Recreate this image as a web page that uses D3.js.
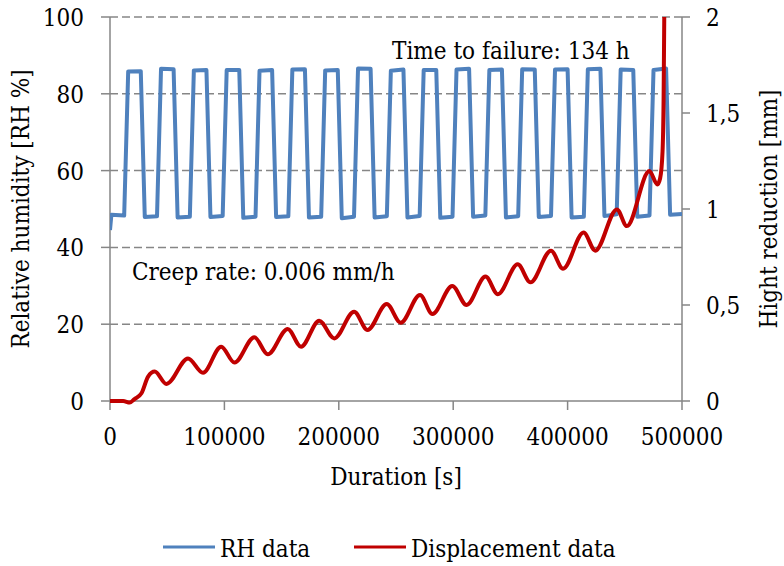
<!DOCTYPE html>
<html>
<head>
<meta charset="utf-8">
<script src="https://cdn.jsdelivr.net/npm/d3@7"></script>
<style>
    body { margin: 0; background: #fff; }
</style>
</head>
<body>
<div id="chart"></div>
<script>
// axis ticks
var xTicks = [0, 100000, 200000, 300000, 400000, 500000],
    rhTicks = [0, 20, 40, 60, 80, 100],
    dispTicks = [0, 0.5, 1, 1.5, 2],
    dispTickLabels = ['0', '0,5', '1', '1,5', '2'];

// RH data [s, %RH] - corners of the humidity cycles
var rhTime = [0, 1200, 12400,
    15900, 26900, 30400, 41100,
    44600, 55600, 59100, 69800,
    73300, 84300, 87800, 98500,
    102000, 113000, 116500, 127200,
    130700, 141700, 145200, 155900,
    159400, 170400, 173900, 184600,
    188100, 199100, 202600, 213300,
    216800, 227800, 231300, 242000,
    245500, 256500, 260000, 270700,
    274200, 285200, 288700, 299400,
    302900, 313900, 317400, 328100,
    331600, 342600, 346100, 356800,
    360300, 371300, 374800, 385500,
    389000, 400000, 403500, 414200,
    417700, 428700, 432200, 442900,
    446400, 457400, 460900, 471600,
    475100, 486100, 489600, 500000];
var rhValue = [44.5, 48.5, 48.3,
    85.8, 85.9, 47.9, 48.1,
    86.5, 86.4, 47.8, 48.0,
    86.1, 86.2, 47.9, 48.2,
    86.2, 86.2, 47.7, 48.0,
    86.0, 86.2, 47.9, 48.1,
    86.3, 86.4, 47.8, 48.0,
    86.1, 86.2, 47.6, 48.0,
    86.6, 86.5, 47.8, 48.1,
    86.0, 86.3, 47.8, 48.2,
    86.2, 86.2, 47.7, 48.0,
    86.3, 86.5, 48.0, 48.3,
    86.2, 86.3, 47.8, 48.1,
    86.4, 86.3, 47.9, 48.2,
    86.3, 86.4, 47.8, 48.0,
    86.4, 86.5, 48.2, 48.6,
    86.3, 86.2, 48.0, 48.3,
    86.2, 86.6, 48.5, 48.7];

// Displacement data [s, mm] - peaks and troughs of the creep curve
var dispTime = [0, 11500, 17300, 21400, 27500, 33300, 39100, 49300,
    68200, 81300, 97200, 108800, 126200, 137900, 155400, 167000,
    182900, 196000, 213400, 225100, 241900, 254100, 271000, 281800,
    299200, 311700, 328300, 339000, 356400, 367500, 385500, 396000,
    414000, 424200, 443100, 451800, 471500, 478500, 480900, 483000,
    483900, 484500, 485000];
var dispValue = [0, 0, -0.008, 0.01, 0.04, 0.127, 0.153, 0.089,
    0.222, 0.147, 0.283, 0.2, 0.332, 0.243, 0.375, 0.283,
    0.418, 0.326, 0.465, 0.37, 0.505, 0.408, 0.552, 0.453,
    0.599, 0.5, 0.648, 0.556, 0.712, 0.618, 0.783, 0.689,
    0.877, 0.783, 0.998, 0.911, 1.198, 1.128, 1.16, 1.3,
    1.57, 2.0, 2.3];

var annotTop = 'Time to failure: 134 h',
    annotMid = 'Creep rate: 0.006 mm/h';

(function () {
    var width = 784,
        height = 566,
        left = 110, right = 682, top = 17, bottom = 401,
        grey = '#868686',
        blue = '#4F81BD',
        red = '#C00000',
        fs = '24px';

    var svg = d3.select('#chart').append('svg')
        .attr('width', width).attr('height', height)
        .style('font-family', "'DejaVu Serif Condensed', 'DejaVu Serif', serif")
        .style('font-stretch', 'condensed');

    var x = d3.scaleLinear().domain([0, 500000]).range([left, right]),
        yL = d3.scaleLinear().domain([0, 100]).range([bottom, top]),
        yR = d3.scaleLinear().domain([0, 2]).range([bottom, top]);

    svg.append('clipPath').attr('id', 'plotclip')
        .append('rect')
        .attr('x', left).attr('y', top)
        .attr('width', right - left).attr('height', bottom - top + 20);

    // dashed grid
    svg.selectAll('.grid')
        .data(rhTicks.slice(1)).enter()
        .append('line')
        .attr('class', 'grid')
        .attr('x1', left).attr('x2', right)
        .attr('y1', d => yL(d)).attr('y2', d => yL(d))
        .style('stroke', grey)
        .style('stroke-width', '1.5px')
        .style('stroke-dasharray', '8,4');

    // axis lines
    var axes = svg.append('g').style('stroke', grey).style('stroke-width', '1.5px');
    axes.append('line').attr('x1', left).attr('x2', left).attr('y1', top).attr('y2', bottom);
    axes.append('line').attr('x1', right).attr('x2', right).attr('y1', top).attr('y2', bottom);
    axes.append('line').attr('x1', left).attr('x2', right).attr('y1', bottom).attr('y2', bottom);

    axes.selectAll('.lt').data(rhTicks).enter().append('line')
        .attr('x1', left - 9).attr('x2', left)
        .attr('y1', d => yL(d)).attr('y2', d => yL(d));
    axes.selectAll('.rt').data(dispTicks).enter().append('line')
        .attr('x1', right).attr('x2', right + 8)
        .attr('y1', d => yR(d)).attr('y2', d => yR(d));
    axes.selectAll('.bt').data(xTicks).enter().append('line')
        .attr('x1', d => x(d)).attr('x2', d => x(d))
        .attr('y1', bottom).attr('y2', bottom + 9);

    // tick labels
    svg.selectAll('.ll').data(rhTicks).enter().append('text')
        .attr('x', 84).attr('y', d => yL(d) + 9)
        .attr('text-anchor', 'end')
        .style('font-size', fs)
        .text(d => d);
    svg.selectAll('.rl').data(dispTicks).enter().append('text')
        .attr('x', 706).attr('y', d => yR(d) + 9)
        .style('font-size', fs)
        .text((d, i) => dispTickLabels[i]);
    svg.selectAll('.bl').data(xTicks).enter().append('text')
        .attr('x', d => x(d)).attr('y', 445)
        .attr('text-anchor', 'middle')
        .style('font-size', fs)
        .text(d => d);

    // axis titles
    svg.append('text')
        .attr('transform', 'translate(29,' + ((top + bottom) / 2) + ')rotate(-90)')
        .attr('text-anchor', 'middle')
        .style('font-size', fs)
        .text('Relative humidity [RH %]');
    svg.append('text')
        .attr('transform', 'translate(777,' + ((top + bottom) / 2) + ')rotate(-90)')
        .attr('text-anchor', 'middle')
        .style('font-size', fs)
        .text('Hight reduction [mm]');
    svg.append('text')
        .attr('x', (left + right) / 2).attr('y', 485)
        .attr('text-anchor', 'middle')
        .style('font-size', fs)
        .text('Duration [s]');

    // series
    var plot = svg.append('g').attr('clip-path', 'url(#plotclip)');

    var rhLine = d3.line()
        .x((d, i) => x(rhTime[i]))
        .y(d => yL(d));
    plot.append('path')
        .datum(rhValue)
        .attr('d', rhLine)
        .style('fill', 'none')
        .style('stroke', blue)
        .style('stroke-width', '4px')
        .style('stroke-linejoin', 'round');

    var dispLine = d3.line()
        .x((d, i) => x(dispTime[i]))
        .y(d => yR(d))
        .curve(d3.curveMonotoneX);
    plot.append('path')
        .datum(dispValue)
        .attr('d', dispLine)
        .style('fill', 'none')
        .style('stroke', red)
        .style('stroke-width', '4px')
        .style('stroke-linejoin', 'round');

    // annotations
    svg.append('text').attr('x', 392).attr('y', 59).style('font-size', fs).text(annotTop);
    svg.append('text').attr('x', 132).attr('y', 280).style('font-size', fs).text(annotMid);

    // legend
    var legend = [
        { name: 'RH data', color: blue, x: 163 },
        { name: 'Displacement data', color: red, x: 354 }
    ];
    var lg = svg.selectAll('.legend').data(legend).enter().append('g');
    lg.append('line')
        .attr('x1', d => d.x).attr('x2', d => d.x + 52)
        .attr('y1', 547).attr('y2', 547)
        .style('stroke', d => d.color)
        .style('stroke-width', '3px');
    lg.append('text')
        .attr('x', d => d.x + 57).attr('y', 557)
        .style('font-size', fs)
        .text(d => d.name);
}());
</script>
</body>
</html>
